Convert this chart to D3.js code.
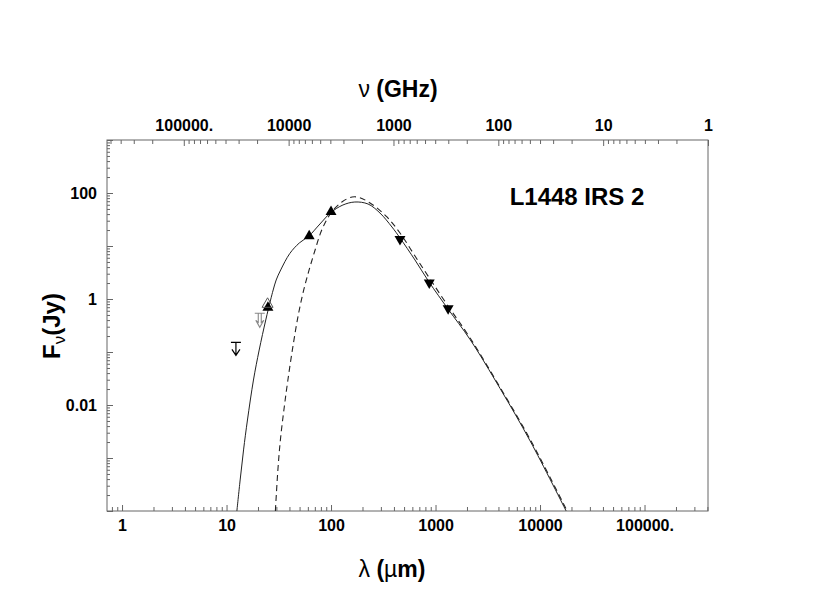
<!DOCTYPE html>
<html><head><meta charset="utf-8">
<script src="https://cdn.jsdelivr.net/npm/d3@7/dist/d3.min.js"></script>
<style>
html,body{margin:0;padding:0;background:#fff;}
text{font-family:"Liberation Sans",Arial,Helvetica,sans-serif;}
</style></head>
<body>
<svg id="chart" width="817" height="610"></svg>
<script>
// ---- data ----
const lambdaSolid = [12.56, 13.50, 14.55, 15.86, 18.10, 20.53, 23.74, 26.39, 27.95, 29.86, 32.98, 40.3, 49.7, 61.4, 78.3, 99.8, 130, 169, 226, 294, 383, 457, 636, 867, 1317, 2141, 4148, 8040, 17780];
const fluxSolid   = [1.0e-4, 3.85e-4, 1.42e-3, 5.21e-3, 0.0296, 0.109, 0.402, 0.958, 1.479, 2.283, 3.53, 7.22, 11.4, 15.44, 26.0, 42.9, 59.4, 67.6, 62.0, 41.9, 22.8, 14.2, 5.44, 2.09, 0.648, 0.172, 0.0205, 2.1e-3, 1.0e-4];
const lambdaDashed = [29.34, 31.0, 32.76, 35.39, 38.65, 43.4, 49.0, 54.8, 61.7, 70.4, 81.5, 99.8, 127, 159, 189, 252, 343, 457, 636, 886, 1317, 2141, 4148, 8040, 18180];
const fluxDashed   = [1.0e-4, 5.94e-4, 2.19e-3, 8.05e-3, 0.0296, 0.1356, 0.544, 1.479, 3.53, 8.40, 20.0, 41.9, 67.6, 84.1, 81.5, 59.4, 35.3, 17.6, 6.48, 2.38, 0.738, 0.184, 0.0215, 2.25e-3, 1.0e-4];

const upLambda = [24.9, 61.8, 100];
const upFlux   = [0.69, 15.4, 44.3];
const downLambda = [457, 871, 1320];
const downFlux   = [13.4, 2.03, 0.667];
const openUpLambda = [24.7];
const openUpFlux   = [0.80];
const limitLambda = [12.3];
const limitFlux   = [0.152];
const grayLimitLambda = [20.8];
const grayLimitFlux   = [0.537];

const xMajor = [1, 10, 100, 1000, 10000, 100000];
const xMajorLabels = ["1", "10", "100", "1000", "10000", "100000."];
const nuMajor = [100000, 10000, 1000, 100, 10, 1];
const nuMajorLabels = ["100000.", "10000", "1000", "100", "10", "1"];
const yMajor = [0.01, 1, 100];
const yMajorLabels = ["0.01", "1", "100"];
const sourceName = "L1448 IRS 2";

// ---- layout ----
const L = 107, R = 708, T = 140, B = 511;
const svg = d3.select("#chart");
const x = d3.scaleLog().domain([0.718, 4.05e5]).range([L, R]);
const nu = d3.scaleLog().domain([5.4e5, 1]).range([L, R]);
const y = d3.scaleLog().domain([1e-4, 1e3]).range([B, T]);

const frameColor = "#666";
const isPow10 = v => Math.abs(Math.log10(v) - Math.round(Math.log10(v))) < 1e-6;

function styleAxis(g){
  g.select(".domain").remove();
  g.selectAll(".tick line").attr("stroke", frameColor).attr("stroke-width", 1);
  g.selectAll(".tick text").attr("font-size", 16).attr("font-weight", "bold").attr("fill", "#000")
    .attr("font-family", '"Liberation Sans", Arial, sans-serif');
}

const xAll = x.ticks(60);
const nuAll = nu.ticks(60);
const yAll = y.ticks(60);

svg.append("g").attr("transform", `translate(0,${B})`)
  .call(d3.axisBottom(x).tickValues(xAll.filter(v => !isPow10(v))).tickSize(-4).tickFormat(""))
  .call(styleAxis);
svg.append("g").attr("transform", `translate(0,${B})`)
  .call(d3.axisBottom(x).tickValues(xMajor).tickSize(-6).tickPadding(9)
    .tickFormat((d, i) => xMajorLabels[i]))
  .call(styleAxis);

svg.append("g").attr("transform", `translate(0,${T})`)
  .call(d3.axisTop(nu).tickValues(nuAll.filter(v => !isPow10(v))).tickSize(-4).tickFormat(""))
  .call(styleAxis);
svg.append("g").attr("transform", `translate(0,${T})`)
  .call(d3.axisTop(nu).tickValues(nuMajor).tickSize(-6).tickPadding(9)
    .tickFormat((d, i) => nuMajorLabels[i]))
  .call(styleAxis);

svg.append("g").attr("transform", `translate(${L},0)`)
  .call(d3.axisLeft(y).tickValues(yAll.filter(v => !isPow10(v))).tickSize(-3).tickFormat(""))
  .call(styleAxis);
svg.append("g").attr("transform", `translate(${L},0)`)
  .call(d3.axisLeft(y).tickValues(yAll.filter(v => isPow10(v))).tickSize(-6).tickPadding(10)
    .tickFormat(d => { const i = yMajor.findIndex(v => Math.abs(v - d) / d < 1e-6); return i >= 0 ? yMajorLabels[i] : ""; }))
  .call(styleAxis);

// frame
svg.append("rect").attr("x", L).attr("y", T).attr("width", R - L).attr("height", B - T)
  .attr("fill", "none").attr("stroke", frameColor).attr("stroke-width", 1);

// clip
svg.append("clipPath").attr("id", "clip").append("rect")
  .attr("x", L).attr("y", T).attr("width", R - L).attr("height", B - T);
const plot = svg.append("g").attr("clip-path", "url(#clip)");

const line = d3.line().x(d => x(d[0])).y(d => y(d[1])).curve(d3.curveCatmullRom.alpha(0.5));
plot.append("path").datum(d3.zip(lambdaSolid, fluxSolid)).attr("d", line)
  .attr("fill", "none").attr("stroke", "#222").attr("stroke-width", 1);
plot.append("path").datum(d3.zip(lambdaDashed, fluxDashed)).attr("d", line)
  .attr("fill", "none").attr("stroke", "#222").attr("stroke-width", 1.1).attr("stroke-dasharray", "6,4");

// markers
const tri = d3.symbol(d3.symbolTriangle, 52);
plot.selectAll(".up").data(d3.zip(upLambda, upFlux)).join("path")
  .attr("d", tri).attr("transform", d => `translate(${x(d[0])},${y(d[1])})`).attr("fill", "#000");
plot.selectAll(".down").data(d3.zip(downLambda, downFlux)).join("path")
  .attr("d", tri).attr("transform", d => `translate(${x(d[0])},${y(d[1])}) rotate(180)`).attr("fill", "#000");
plot.selectAll(".openup").data(d3.zip(openUpLambda, openUpFlux)).join("path")
  .attr("d", tri).attr("transform", d => `translate(${x(d[0])},${y(d[1])})`)
  .attr("fill", "none").attr("stroke", "#555").attr("stroke-width", 1);

// upper limits
function limitPath(px, py){
  return `M${px-5},${py} L${px+5},${py} M${px},${py} L${px},${py+13} M${px-4},${py+7} L${px},${py+13} L${px+4},${py+7}`;
}
plot.selectAll(".lim").data(d3.zip(limitLambda, limitFlux)).join("path")
  .attr("d", d => limitPath(x(d[0]), y(d[1])))
  .attr("fill", "none").attr("stroke", "#000").attr("stroke-width", 1.2);
plot.selectAll(".glim").data(d3.zip(grayLimitLambda, grayLimitFlux)).join("path")
  .attr("d", d => { const px = x(d[0]), py = y(d[1]);
    return `M${px-5},${py} L${px+5},${py} M${px-1.5},${py} L${px-1.5},${py+9} L${px-4},${py+7} L${px},${py+14} L${px+4},${py+7} L${px+1.5},${py+9} L${px+1.5},${py}`; })
  .attr("fill", "none").attr("stroke", "#888").attr("stroke-width", 1.1);

// texts
svg.append("text").attr("x", 577).attr("y", 205).attr("text-anchor", "middle")
  .attr("font-size", 24).attr("font-weight", "bold").text(sourceName);

const tTop = svg.append("text").attr("x", 398).attr("y", 97).attr("text-anchor", "middle")
  .attr("font-size", 23).attr("font-weight", "bold");
tTop.append("tspan").attr("font-weight", "normal").text("ν");
tTop.append("tspan").text(" (GHz)");

const tBot = svg.append("text").attr("x", 392).attr("y", 577).attr("text-anchor", "middle")
  .attr("font-size", 23).attr("font-weight", "bold");
tBot.append("tspan").attr("font-weight", "normal").text("λ");
tBot.append("tspan").text(" (");
tBot.append("tspan").attr("font-weight", "normal").text("µ");
tBot.append("tspan").text("m)");

const tY = svg.append("text").attr("transform", "translate(60,326) rotate(-90)").attr("text-anchor", "middle")
  .attr("font-size", 24).attr("font-weight", "bold");
tY.append("tspan").text("F");
tY.append("tspan").attr("font-size", 17).attr("font-weight", "normal").attr("dy", 5).text("ν");
tY.append("tspan").attr("dy", -5).text("(Jy)");
</script>
</body></html>
